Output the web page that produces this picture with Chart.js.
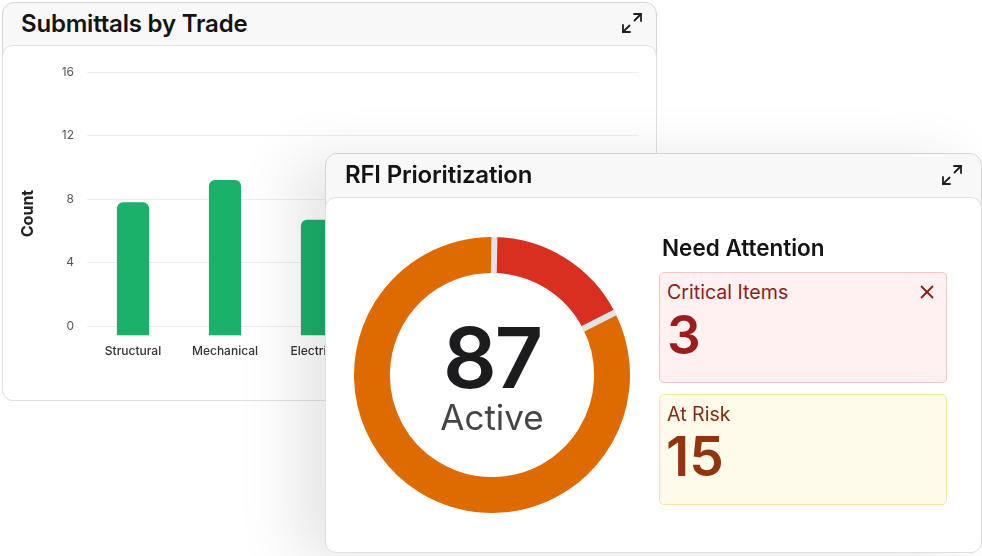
<!DOCTYPE html>
<html>
<head>
<meta charset="utf-8">
<script src="https://cdn.jsdelivr.net/npm/chart.js@4.4.1/dist/chart.umd.min.js"></script>
<style>
  html, body { margin:0; padding:0; }
  body { width:982px; height:556px; position:relative; overflow:hidden; background:#ffffff; font-family: Inter, "Noto Sans", sans-serif; }
  .abs { position:absolute; }
  .card { position:absolute; box-sizing:border-box; border:1px solid #d5d5d5; border-radius:12px; background:#f8f8f8; }
  .cardBody { position:absolute; left:-1px; right:-1px; top:42px; bottom:-1px; box-sizing:border-box; border:1px solid #e0e0e0; border-radius:11px; background:#ffffff; }
  .title { position:absolute; font-size:24px; font-weight:600; color:#141414; line-height:1; white-space:nowrap; letter-spacing:-0.2px; }
  .txt { position:absolute; line-height:1; white-space:nowrap; }
</style>
</head>
<body>
<script>
// ---- data ----
const trades = ['Structural', 'Mechanical', 'Electrical', 'Plumbing', 'Civil', 'Architectural'];
const submittalCounts = [7.8, 9.2, 6.7, null, null, null];
const countTicks = [0, 4, 8, 12, 16];
const barBase = -0.55;
const countAxisMin = -1.8;
const countAxisMax = 16;
const ringLabels = ['Critical', 'Other Active'];
const ringValues = [15, 72];
const activeTotal = 87;
const criticalItems = 3;
const atRiskItems = 15;
</script>

<!-- card 1 -->
<div class="card" style="left:2px; top:2px; width:655px; height:399px; z-index:1;">
  <div class="cardBody"></div>
</div>
<div class="title" style="left:21px; top:12px; z-index:2;">Submittals by Trade</div>
<svg class="abs" style="left:621px; top:12px; z-index:2;" width="22" height="22" viewBox="0 0 22 22" fill="none" stroke="#1e1e1e" stroke-width="1.8" stroke-linecap="round" stroke-linejoin="round">
  <polyline points="13,2 20,2 20,9"/><line x1="20" y1="2" x2="13.5" y2="8.5"/>
  <polyline points="2,13 2,20 9,20"/><line x1="2" y1="20" x2="8.5" y2="13.5"/>
</svg>
<canvas id="bars" class="abs" style="left:0px; top:50px; z-index:2;" width="650" height="330"></canvas>

<!-- card 2 -->
<div class="card" style="left:325px; top:153px; width:657px; height:400px; z-index:3; box-shadow:-30px 6px 60px rgba(0,0,0,0.10);">
  <div class="cardBody" style="top:43px;"></div>
</div>
<div class="title" style="left:345px; top:163px; z-index:4;">RFI Prioritization</div>
<svg class="abs" style="left:941px; top:164px; z-index:4;" width="22" height="22" viewBox="0 0 22 22" fill="none" stroke="#1e1e1e" stroke-width="1.8" stroke-linecap="round" stroke-linejoin="round">
  <polyline points="13,2 20,2 20,9"/><line x1="20" y1="2" x2="13.5" y2="8.5"/>
  <polyline points="2,13 2,20 9,20"/><line x1="2" y1="20" x2="8.5" y2="13.5"/>
</svg>
<canvas id="ring" class="abs" style="left:354px; top:237px; z-index:4;" width="276" height="276"></canvas>
<div id="ringNum" class="txt" style="left:392px; width:200px; text-align:center; top:316px; font-size:84px; font-weight:600; color:#1c1c1e; letter-spacing:-2px; z-index:5;"></div>
<div class="txt" style="left:392px; width:200px; text-align:center; top:400px; font-size:35px; font-weight:400; color:#454545; z-index:5;">Active</div>

<div class="txt" style="left:662px; top:237px; font-size:22.5px; font-weight:600; color:#141414; z-index:5;">Need Attention</div>

<div class="abs" style="left:659px; top:272px; width:288px; height:111px; box-sizing:border-box; border:1px solid #f2c6c6; border-radius:5px; background:#fff1f1; z-index:5;"></div>
<div class="txt" style="left:667px; top:283px; font-size:19.6px; color:#8b1d1d; z-index:6;">Critical Items</div>
<svg class="abs" style="left:919px; top:284px; z-index:6;" width="16" height="16" viewBox="0 0 16 16" stroke="#8b1d1d" stroke-width="1.8" stroke-linecap="round">
  <line x1="2.5" y1="2.5" x2="13.5" y2="13.5"/><line x1="13.5" y1="2.5" x2="2.5" y2="13.5"/>
</svg>
<div id="critNum" class="txt" style="left:667px; top:309px; font-size:53px; font-weight:600; color:#9b1c1c; z-index:6;"></div>

<div class="abs" style="left:659px; top:394px; width:288px; height:111px; box-sizing:border-box; border:1px solid #f8e2a4; border-radius:5px; background:#fffbea; z-index:5;"></div>
<div class="txt" style="left:667px; top:405px; font-size:19.6px; color:#862a12; z-index:6;">At Risk</div>
<div id="riskNum" class="txt" style="left:666px; top:429px; font-size:55px; font-weight:600; color:#93340f; z-index:6;"></div>

<script>
document.getElementById('ringNum').textContent = String(activeTotal);
document.getElementById('critNum').textContent = String(criticalItems);
document.getElementById('riskNum').textContent = String(atRiskItems);

Chart.defaults.font.family = 'Inter, "Noto Sans", sans-serif';

new Chart(document.getElementById('bars'), {
  type: 'bar',
  data: {
    labels: trades,
    datasets: [{
      label: 'Count',
      data: submittalCounts,
      base: barBase,
      backgroundColor: '#1bb16b',
      borderRadius: { topLeft: 6, topRight: 6, bottomLeft: 0, bottomRight: 0 },
      borderSkipped: false,
      barPercentage: 0.7,
      categoryPercentage: 0.5
    }]
  },
  options: {
    responsive: false,
    animation: false,
    layout: { padding: { top: 22, right: 11, left: 0, bottom: 0 } },
    plugins: { legend: { display: false }, tooltip: { enabled: false } },
    scales: {
      x: {
        grid: { display: false, drawTicks: false },
        border: { display: false },
        ticks: { color: '#333333', font: { size: 12, weight: 500 }, mirror: true, padding: -4, maxRotation: 0, autoSkip: false },
        afterFit: s => { s.height = 25; }
      },
      y: {
        min: countAxisMin,
        max: countAxisMax,
        afterBuildTicks: s => { s.ticks = countTicks.map(v => ({ value: v })); },
        grid: { color: '#efefef', drawTicks: false, lineWidth: 1 },
        border: { display: false },
        ticks: { color: '#555555', font: { size: 12 }, padding: 13 },
        title: { display: true, text: 'Count', color: '#222222', font: { size: 16, weight: 700 }, padding: { top: 19, bottom: 0 } },
        afterFit: s => { s.width = 87; }
      }
    }
  }
});

const gapLines = {
  id: 'gapLines',
  afterDatasetsDraw(chart) {
    const ctx = chart.ctx;
    const arcs = chart.getDatasetMeta(0).data;
    ctx.save();
    ctx.strokeStyle = '#e3e3e3';
    ctx.lineWidth = 6;
    arcs.forEach(a => {
      const p = a.getProps(['x', 'y', 'startAngle', 'innerRadius', 'outerRadius'], true);
      const c = Math.cos(p.startAngle), s = Math.sin(p.startAngle);
      ctx.beginPath();
      ctx.moveTo(p.x + c * (p.innerRadius - 0.5), p.y + s * (p.innerRadius - 0.5));
      ctx.lineTo(p.x + c * (p.outerRadius + 0.5), p.y + s * (p.outerRadius + 0.5));
      ctx.stroke();
    });
    ctx.restore();
  }
};

new Chart(document.getElementById('ring'), {
  type: 'doughnut',
  data: {
    labels: ringLabels,
    datasets: [{
      data: ringValues,
      backgroundColor: ['#d82f21', '#de6b02'],
      borderWidth: 0
    }]
  },
  options: {
    responsive: false,
    animation: false,
    cutout: '74%',
    rotation: 1,
    layout: { padding: 0 },
    plugins: { legend: { display: false }, tooltip: { enabled: false } }
  },
  plugins: [gapLines]
});
</script>
</body>
</html>
